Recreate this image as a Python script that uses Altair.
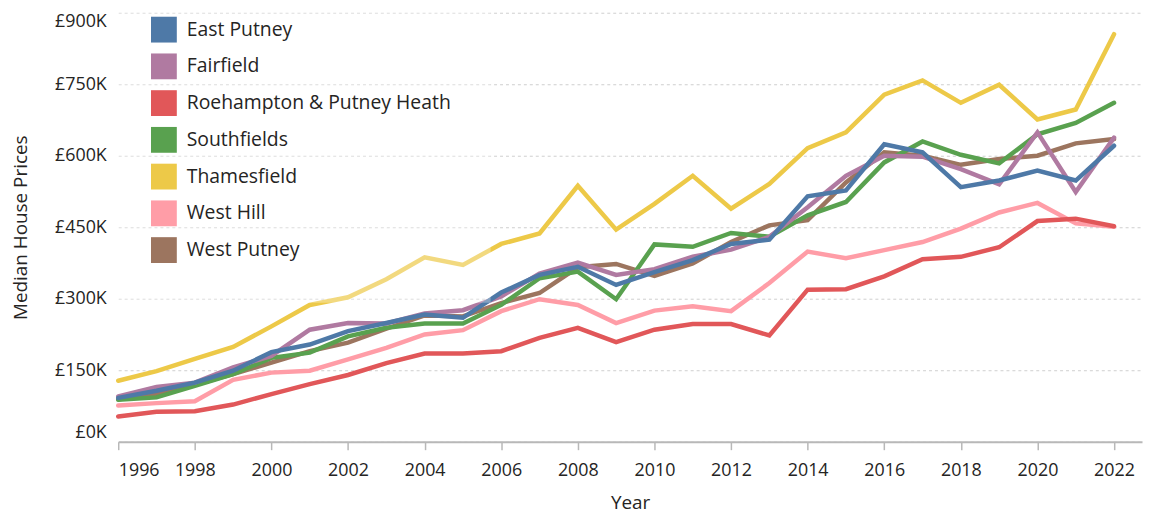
import altair as alt
import pandas as pd

years = list(range(1996, 2023))

wards = [
    "East Putney",
    "Fairfield",
    "Roehampton & Putney Heath",
    "Southfields",
    "Thamesfield",
    "West Hill",
    "West Putney",
]
colors = ["#4e79a7", "#b07aa1", "#e15759", "#59a14f", "#edc948", "#ff9da7", "#9c755f"]

# Median house prices in £K, 1996..2022
east_putney = [92, 107, 124, 149, 188, 204, 232, 249, 267, 260, 313, 350, 367, 329, 356,
               381, 415, 424, 515, 527, 624, 607, 534, 548, 569, 548, 621]
fairfield = [95, 115, 124, 156, 180, 235, 249, 248, 269, 276, 305, 353, 376, 350, 362,
             388, 403, 430, 492, 558, 600, 598, 572, 540, 649, 524, 638]
roehampton = [53, 63, 64, 78, 100, 121, 140, 165, 185, 185, 190, 218, 239, 209, 235,
              247, 247, 223, 319, 320, 347, 383, 388, 408, 463, 468, 452]
southfields = [88, 93, 117, 142, 176, 187, 221, 239, 248, 248, 287, 343, 357, 299, 414,
               409, 438, 430, 475, 503, 586, 630, 602, 584, 645, 669, 711]
thamesfield = [128, 148, 174, 199, 242, 287, 303, 341, 387, 371, 415, 437, 537, 445, 499,
               558, 489, 541, 616, 649, 728, 758, 711, 749, 676, 697, 855]
west_hill = [76, 81, 85, 130, 145, 149, 173, 197, 225, 234, 274, 299, 287, 249, 275,
             284, 274, 333, 399, 385, 402, 419, 447, 481, 501, 458, 451]
west_putney = [89, 100, 120, 142, 166, 190, 208, 237, 265, 263, 291, 312, 366, 373, 348,
               374, 419, 454, 465, 544, 607, 600, 581, 593, 600, 626, 635]

series = [east_putney, fairfield, roehampton, southfields, thamesfield, west_hill, west_putney]

x_ticks = list(range(1996, 2023, 2))
y_ticks = [0, 150, 300, 450, 600, 750, 900]

rows = []
for name, vals in reversed(list(zip(wards, series))):
    for yr, v in zip(years, vals):
        rows.append({"Year": yr, "Ward": name, "Price": v})
df = pd.DataFrame(rows)

FONT = "Open Sans"

x_enc = alt.X(
    "Year:Q",
    title="Year",
    scale=alt.Scale(domain=[1996, 2022.73], nice=False, zero=False),
    axis=alt.Axis(
        values=x_ticks, format="d", labelFlush=True, grid=False,
        ticks=True, tickSize=8, tickColor="#b8b8b8", tickWidth=1.5,
        domainColor="#b8b8b8", domainWidth=2,
        labelFont=FONT, labelFontSize=18, labelColor="#252423", labelPadding=12,
        titleFont=FONT, titleFontSize=19, titleFontWeight="normal", titleColor="#252423",
        titlePadding=14,
    ),
)
y_enc = alt.Y(
    "Price:Q",
    title="Median House Prices",
    scale=alt.Scale(domain=[0, 900], nice=False),
    axis=alt.Axis(
        values=y_ticks, labelExpr="'£' + datum.value + 'K'", labelFlush=True,
        grid=True, gridDash=[3, 3], gridColor="#cfcfcf", gridWidth=1,
        domain=False, ticks=False, tickSize=0,
        labelFont=FONT, labelFontSize=18, labelColor="#252423", labelPadding=12,
        titleFont=FONT, titleFontSize=19, titleFontWeight="normal", titleColor="#252423",
        titlePadding=24,
    ),
)
color_scale = alt.Scale(domain=wards, range=colors)

lines = alt.Chart(df).mark_line(strokeWidth=4.5, strokeCap="round").encode(
    x=x_enc,
    y=y_enc,
    color=alt.Color("Ward:N", scale=color_scale, legend=None),
)

keys = alt.Chart(df).mark_square(opacity=0, size=1).encode(
    x="Year:Q",
    y="Price:Q",
    color=alt.Color(
        "Ward:N",
        scale=color_scale,
        legend=alt.Legend(
            title=None, orient="none", legendX=-7, legendY=-36,
            padding=40, fillColor="rgba(255,255,255,0.3)",
            symbolType="square", symbolSize=676, symbolStrokeWidth=0, symbolOpacity=1,
            labelFont=FONT, labelFontSize=19.5, labelColor="#252423",
            labelOffset=10, rowPadding=11, labelLimit=400,
        ),
    ),
)

chart = alt.layer(lines, keys).resolve_legend(color="independent").properties(
    width=1031, height=432,
    autosize=alt.AutoSizeParams(type="none"),
    padding={"left": 111, "top": 3, "right": 1, "bottom": 72},
).configure_view(stroke=None)

chart.save("out.html", embed_options={"renderer": "svg", "actions": False})
